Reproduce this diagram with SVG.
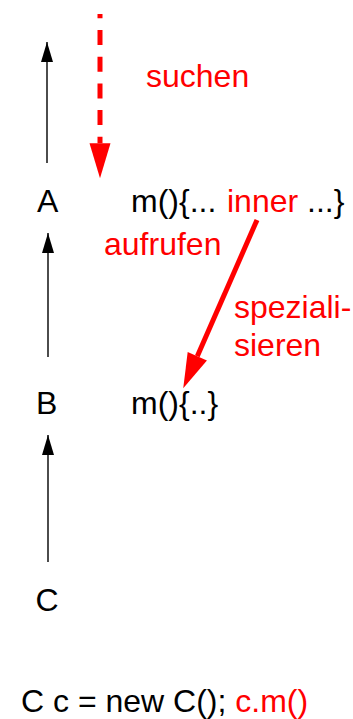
<svg xmlns="http://www.w3.org/2000/svg" width="353" height="719" viewBox="0 0 353 719">
<style>
  text { font-family: "Liberation Sans", Arial, Helvetica, sans-serif; font-size: 32px; fill: #000; }
  .red { fill: #ff0000; }
  .inh { stroke: #000; stroke-width: 1.4; fill: none; }
  .call { stroke: #ff0000; stroke-width: 5; fill: none; }
</style>
<defs>
  <marker id="blackHead" markerUnits="userSpaceOnUse" markerWidth="20" markerHeight="12" refX="20" refY="6" orient="auto">
    <path d="M0,0 L20,6 L0,12 z" fill="#000"/>
  </marker>
  <marker id="redHead" markerUnits="userSpaceOnUse" markerWidth="35" markerHeight="21" refX="0" refY="10.5" orient="auto" overflow="visible">
    <path d="M0,0 L35,10.5 L0,21 z" fill="#ff0000"/>
  </marker>
</defs>

<g id="connectors">
  <line class="inh" x1="47" y1="163" x2="47" y2="42" marker-end="url(#blackHead)"/>
  <line class="inh" x1="48" y1="357" x2="48" y2="233" marker-end="url(#blackHead)"/>
  <line class="inh" x1="48" y1="562" x2="48" y2="435" marker-end="url(#blackHead)"/>
  <line class="call" x1="100" y1="14" x2="100" y2="143.3" stroke-dasharray="15 11.7" stroke-dashoffset="10.7" marker-end="url(#redHead)"/>
  <line class="call" x1="257" y1="220" x2="197.3" y2="356.2" marker-end="url(#redHead)"/>
</g>

<g id="label-suchen"><text class="red" x="146" y="87">suchen</text></g>

<g id="node-A">
  <text x="37" y="212">A</text>
  <text x="131" y="212">m(){... <tspan class="red" x="227">inner</tspan> ...}</text>
</g>

<g id="label-aufrufen"><text class="red" x="104" y="255">aufrufen</text></g>
<g id="label-spezialisieren">
  <text class="red" x="234" y="318">speziali-</text>
  <text class="red" x="234" y="356">sieren</text>
</g>

<g id="node-B">
  <text x="36" y="414">B</text>
  <text x="131" y="414">m(){..}</text>
</g>

<g id="node-C">
  <text x="35.5" y="611">C</text>
</g>

<g id="code">
  <text x="21" y="712">C c = new C(); <tspan class="red">c.m()</tspan></text>
</g>
</svg>
